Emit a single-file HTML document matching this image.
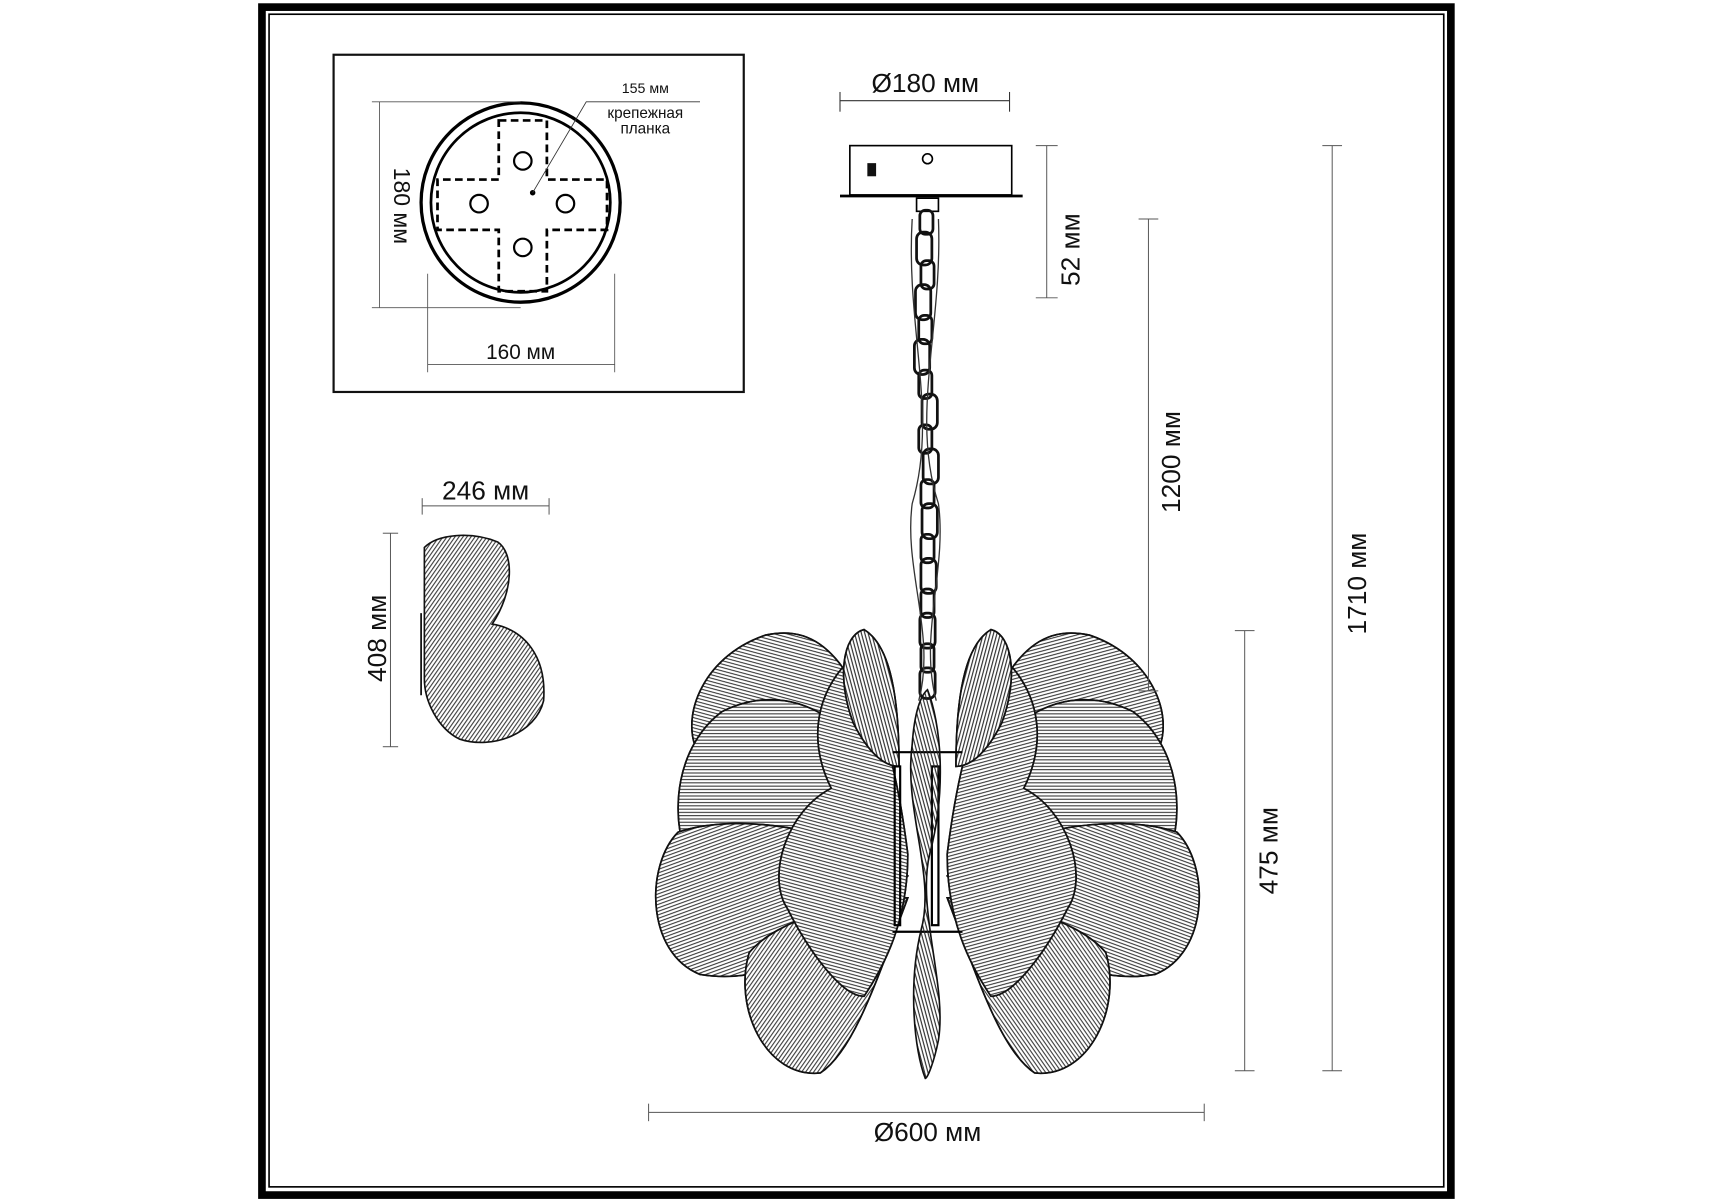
<!DOCTYPE html>
<html><head><meta charset="utf-8"><style>
html,body{margin:0;padding:0;background:#fff;}
svg{display:block;}
text{font-family:"Liberation Sans",sans-serif;fill:#111;}
</style></head><body>
<svg width="1715" height="1200" viewBox="0 0 1568 1096" preserveAspectRatio="none" xmlns="http://www.w3.org/2000/svg">
<defs>
<pattern id="h1" width="3" height="3" patternUnits="userSpaceOnUse" patternTransform="rotate(15)"><line x1="0" y1="1" x2="3" y2="1" stroke="#222" stroke-width="0.9"/></pattern>
<pattern id="h2" width="3" height="3" patternUnits="userSpaceOnUse" patternTransform="rotate(-20)"><line x1="0" y1="1" x2="3" y2="1" stroke="#222" stroke-width="0.9"/></pattern>
<pattern id="h3" width="3" height="3" patternUnits="userSpaceOnUse" patternTransform="rotate(-55)"><line x1="0" y1="1" x2="3" y2="1" stroke="#222" stroke-width="0.9"/></pattern>
<pattern id="h4" width="3" height="3" patternUnits="userSpaceOnUse" patternTransform="rotate(75)"><line x1="0" y1="1" x2="3" y2="1" stroke="#222" stroke-width="1"/></pattern>
<pattern id="h5" width="3" height="3" patternUnits="userSpaceOnUse" patternTransform="rotate(0)"><line x1="0" y1="1" x2="3" y2="1" stroke="#222" stroke-width="0.9"/></pattern>
<g id="half" stroke="#111" stroke-width="1.5">
<path d="M820 720 C760 700,700 690,640 690 C620 660,640 600,700 580 C750 570,780 600,820 720Z" fill="#fff"/>
<path d="M820 720 C760 700,700 690,640 690 C620 660,640 600,700 580 C750 570,780 600,820 720Z" fill="url(#h1)"/>
<path d="M825 760 C740 800,660 820,630 790 C610 740,620 680,660 650 C720 620,790 650,825 760Z" fill="#fff"/>
<path d="M825 760 C740 800,660 820,630 790 C610 740,620 680,660 650 C720 620,790 650,825 760Z" fill="url(#h5)"/>
<path d="M830 800 C760 870,700 900,640 890 C590 870,590 790,620 760 C680 740,780 760,830 800Z" fill="#fff"/>
<path d="M830 800 C760 870,700 900,640 890 C590 870,590 790,620 760 C680 740,780 760,830 800Z" fill="url(#h2)"/>
<path d="M830 820 C800 900,780 960,750 980 C700 985,670 920,685 870 C710 840,780 820,830 820Z" fill="#fff"/>
<path d="M830 820 C800 900,780 960,750 980 C700 985,670 920,685 870 C710 840,780 820,830 820Z" fill="url(#h3)"/>
<path d="M830 780 C820 700,800 620,770 610 C745 640,740 680,760 720 C720 740,700 800,720 830 C740 870,770 910,790 910 C810 880,830 840,830 780Z" fill="#fff"/>
<path d="M830 780 C820 700,800 620,770 610 C745 640,740 680,760 720 C720 740,700 800,720 830 C740 870,770 910,790 910 C810 880,830 840,830 780Z" fill="url(#h1)"/>
<path d="M822 700 C822 640,815 590,790 575 C770 580,765 620,780 660 C795 690,810 700,822 700Z" fill="#fff"/>
<path d="M822 700 C822 640,815 590,790 575 C770 580,765 620,780 660 C795 690,810 700,822 700Z" fill="url(#h4)"/>
</g>
</defs>

<rect x="239.5" y="6.5" width="1087" height="1085" fill="none" stroke="#000" stroke-width="7"/>
<rect x="246" y="13" width="1074" height="1071" fill="none" stroke="#000" stroke-width="1.5"/>

<rect x="305" y="50" width="375" height="308" fill="none" stroke="#111" stroke-width="2"/>
<circle cx="476" cy="185" r="91" fill="none" stroke="#000" stroke-width="3"/>
<circle cx="476" cy="185" r="82" fill="none" stroke="#000" stroke-width="2.5"/>
<path d="M456 110 H500 V164 H555 V210 H500 V266 H456 V210 H400 V164 H456 Z" fill="none" stroke="#000" stroke-width="2.5" stroke-dasharray="7,4"/>
<circle cx="478" cy="147" r="8" fill="none" stroke="#000" stroke-width="2"/>
<circle cx="438" cy="186" r="8" fill="none" stroke="#000" stroke-width="2"/>
<circle cx="517" cy="186" r="8" fill="none" stroke="#000" stroke-width="2"/>
<circle cx="478" cy="226" r="8" fill="none" stroke="#000" stroke-width="2"/>
<circle cx="487" cy="176" r="2.5" fill="#000"/>
<polyline points="487,176 536,93 640,93" fill="none" stroke="#333" stroke-width="0.8"/>
<text x="590" y="85" font-size="13" text-anchor="middle">155 мм</text>
<text x="590" y="108" font-size="14" text-anchor="middle">крепежная</text>
<text x="590" y="122" font-size="14" text-anchor="middle">планка</text>
<g stroke="#555" stroke-width="0.8">
<line x1="347" y1="93" x2="347" y2="281"/>
<line x1="340" y1="93" x2="476" y2="93"/>
<line x1="340" y1="281" x2="476" y2="281"/>
<line x1="391" y1="250" x2="391" y2="340"/>
<line x1="562" y1="250" x2="562" y2="340"/>
<line x1="391" y1="333" x2="562" y2="333"/>
</g>
<text transform="translate(360,188) rotate(90)" font-size="21" text-anchor="middle">180 мм</text>
<text x="476" y="328" font-size="19" text-anchor="middle">160 мм</text>

<text x="846" y="84" font-size="24" text-anchor="middle">Ø180 мм</text>
<g stroke="#333" stroke-width="1">
<line x1="768" y1="92" x2="923" y2="92"/>
<line x1="768" y1="84" x2="768" y2="102"/>
<line x1="923" y1="84" x2="923" y2="102"/>
</g>
<rect x="777" y="133" width="148" height="45" fill="#fff" stroke="#000" stroke-width="1.5"/>
<line x1="768" y1="179" x2="935" y2="179" stroke="#000" stroke-width="2.5"/>
<rect x="793" y="149" width="8" height="12" fill="#111"/>
<circle cx="848" cy="145" r="4.5" fill="none" stroke="#000" stroke-width="1.5"/>
<rect x="838" y="181" width="20" height="12" fill="#fff" stroke="#000" stroke-width="1.5"/>

<g fill="none" stroke="#111" stroke-width="2.5">
<rect x="841" y="192" width="12" height="22" rx="5"/>
<rect x="838" y="212" width="14" height="30" rx="6"/>
<rect x="842" y="238" width="12" height="26" rx="5"/>
<rect x="837" y="260" width="14" height="32" rx="6"/>
<rect x="840" y="288" width="12" height="26" rx="5"/>
<rect x="836" y="310" width="14" height="32" rx="6"/>
<rect x="840" y="338" width="12" height="26" rx="5"/>
<rect x="843" y="360" width="14" height="32" rx="6"/>
<rect x="840" y="388" width="12" height="26" rx="5"/>
<rect x="844" y="410" width="14" height="32" rx="6"/>
<rect x="842" y="438" width="12" height="26" rx="5"/>
<rect x="843" y="460" width="14" height="32" rx="6"/>
<rect x="842" y="488" width="12" height="26" rx="5"/>
<rect x="842" y="510" width="14" height="32" rx="6"/>
<rect x="842" y="538" width="12" height="26" rx="5"/>
<rect x="841" y="560" width="14" height="32" rx="6"/>
<rect x="842" y="588" width="12" height="26" rx="5"/>
<rect x="841" y="610" width="14" height="28" rx="6"/>
</g>
<path d="M834 200 C828 300,858 380,834 460 C826 520,856 580,840 640" fill="none" stroke="#333" stroke-width="1.2"/>
<path d="M858 200 C862 300,832 380,858 460 C866 520,840 580,856 640" fill="none" stroke="#333" stroke-width="1.2"/>

<use href="#half"/>
<use href="#half" transform="translate(1696,0) scale(-1,1)"/>
<g stroke="#000" stroke-width="2" fill="none">
<line x1="816" y1="687" x2="880" y2="687"/>
<line x1="816" y1="851" x2="880" y2="851"/>
<rect x="818" y="700" width="5" height="145"/>
<rect x="852" y="700" width="6" height="145"/>
</g>
<path d="M848 630 C860 660,866 720,850 780 C838 830,866 900,858 950 C854 970,848 985,846 985 C836 960,830 900,842 850 C856 800,826 740,834 680 C836 650,842 635,848 630Z" fill="url(#h4)" stroke="#111" stroke-width="1.5"/>

<path d="M388 500 C400 488,430 485,455 495 C470 505,470 540,450 570 C480 575,500 600,497 640 C490 670,450 685,420 675 C400 665,388 640,388 620 Z" fill="url(#h3)" stroke="#111" stroke-width="1.5"/>
<line x1="385" y1="560" x2="385" y2="635" stroke="#000" stroke-width="1.5"/>

<g stroke="#555" stroke-width="0.9">
<line x1="386" y1="462" x2="502" y2="462"/><line x1="386" y1="455" x2="386" y2="470"/><line x1="502" y1="455" x2="502" y2="470"/>
<line x1="357" y1="487" x2="357" y2="682"/><line x1="350" y1="487" x2="364" y2="487"/><line x1="350" y1="682" x2="364" y2="682"/>
<line x1="957" y1="133" x2="957" y2="272"/><line x1="947" y1="133" x2="967" y2="133"/><line x1="947" y1="272" x2="967" y2="272"/>
<line x1="1050" y1="200" x2="1050" y2="631"/><line x1="1041" y1="200" x2="1059" y2="200"/><line x1="1041" y1="631" x2="1059" y2="631"/>
<line x1="1218" y1="133" x2="1218" y2="978"/><line x1="1209" y1="133" x2="1227" y2="133"/><line x1="1209" y1="978" x2="1227" y2="978"/>
<line x1="1138" y1="576" x2="1138" y2="978"/><line x1="1129" y1="576" x2="1147" y2="576"/><line x1="1129" y1="978" x2="1147" y2="978"/>
<line x1="593" y1="1016" x2="1101" y2="1016"/><line x1="593" y1="1008" x2="593" y2="1024"/><line x1="1101" y1="1008" x2="1101" y2="1024"/>
</g>
<text x="444" y="456" font-size="24" text-anchor="middle">246 мм</text>
<text transform="translate(353,583) rotate(-90)" font-size="24" text-anchor="middle">408 мм</text>
<text transform="translate(987,228) rotate(-90)" font-size="24" text-anchor="middle">52 мм</text>
<text transform="translate(1079,422) rotate(-90)" font-size="24" text-anchor="middle">1200 мм</text>
<text transform="translate(1249,533) rotate(-90)" font-size="24" text-anchor="middle">1710 мм</text>
<text transform="translate(1168,777) rotate(-90)" font-size="24" text-anchor="middle">475 мм</text>
<text x="848" y="1042" font-size="24" text-anchor="middle">Ø600 мм</text>
</svg>
</body></html>
